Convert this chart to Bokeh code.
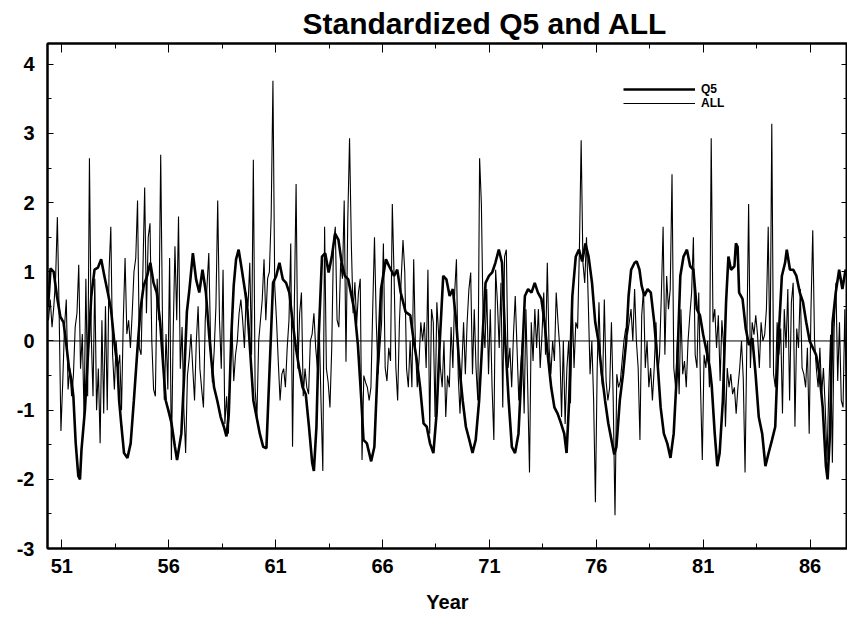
from bokeh.plotting import figure
from bokeh.models import Range1d, FixedTicker, LinearAxis, Span, Legend, LegendItem
from bokeh.embed import file_html
from bokeh.resources import INLINE

# ---------------- data ----------------
x_tick_years = [51, 56, 61, 66, 71, 76, 81, 86]
x_tick_labels = ["51", "56", "61", "66", "71", "76", "81", "86"]
y_ticks = [-3, -2, -1, 0, 1, 2, 3, 4]
y_tick_labels = ["-3", "-2", "-1", "0", "1", "2", "3", "4"]

# Q5 (thick line): year (19xx, decimal) and standardized value
q5_year = [
    50.36, 50.47, 50.62, 50.77, 50.93, 51.08, 51.19, 51.34, 51.46, 51.54,
    51.65, 51.77, 51.85, 51.92, 52.08, 52.23, 52.38, 52.53, 52.69, 52.84,
    52.99, 53.15, 53.30, 53.45, 53.61, 53.68, 53.79, 53.91, 54.07, 54.22,
    54.37, 54.53, 54.68, 54.83, 54.99, 55.14, 55.29, 55.44, 55.60, 55.75,
    55.86, 55.98, 56.13, 56.29, 56.39, 56.59, 56.74, 56.85, 56.97, 57.13,
    57.28, 57.43, 57.58, 57.74, 57.89, 58.00, 58.12, 58.27, 58.43, 58.58,
    58.70, 58.81, 58.93, 59.04, 59.15, 59.27, 59.42, 59.58, 59.68, 59.81,
    59.96, 60.11, 60.26, 60.42, 60.57, 60.72, 60.88, 61.03, 61.18, 61.34,
    61.49, 61.64, 61.80, 61.95, 62.10, 62.26, 62.41, 62.56, 62.71, 62.79,
    62.91, 63.02, 63.17, 63.32, 63.48, 63.63, 63.78, 63.94, 64.09, 64.24,
    64.40, 64.55, 64.70, 64.85, 65.01, 65.11, 65.27, 65.47, 65.62, 65.77,
    65.93, 66.16, 66.31, 66.54, 66.69, 66.85, 67.08, 67.30, 67.46, 67.61,
    67.76, 67.92, 68.07, 68.22, 68.38, 68.53, 68.68, 68.84, 68.99, 69.14,
    69.29, 69.45, 69.60, 69.75, 69.90, 70.06, 70.21, 70.36, 70.52, 70.67,
    70.82, 70.98, 71.13, 71.28, 71.44, 71.59, 71.74, 71.90, 72.05, 72.20,
    72.36, 72.51, 72.66, 72.81, 72.97, 73.12, 73.27, 73.43, 73.58, 73.73,
    73.89, 74.04, 74.19, 74.35, 74.50, 74.61, 74.73, 74.88, 75.04, 75.19,
    75.34, 75.49, 75.64, 75.80, 75.95, 76.10, 76.26, 76.41, 76.56, 76.71,
    76.84, 76.94, 77.10, 77.25, 77.40, 77.51, 77.63, 77.79, 77.89, 78.02,
    78.12, 78.25, 78.40, 78.55, 78.71, 78.86, 79.01, 79.16, 79.32, 79.47,
    79.62, 79.78, 79.93, 80.08, 80.24, 80.39, 80.54, 80.70, 80.85, 81.00,
    81.16, 81.31, 81.40, 81.54, 81.66, 81.77, 81.92, 82.07, 82.18, 82.30,
    82.46, 82.53, 82.61, 82.68, 82.84, 82.99, 83.14, 83.30, 83.45, 83.60,
    83.76, 83.91, 84.06, 84.22, 84.37, 84.52, 84.68, 84.83, 84.91, 85.06,
    85.21, 85.36, 85.52, 85.67, 85.82, 85.98, 86.13, 86.28, 86.44, 86.59,
    86.74, 86.82, 86.93, 87.05, 87.20, 87.36, 87.51, 87.66, 87.75,
]
q5_value = [
    0.5, 1.05, 1.0, 0.65, 0.35, 0.27, 0.0, -0.4, -0.58, -0.8,
    -1.48, -1.95, -2.0, -1.57, -1.0, -0.15, 0.65, 1.03, 1.06, 1.18,
    0.94, 0.7, 0.46, 0.0, -0.39, -0.86, -1.24, -1.62, -1.69, -1.48,
    -0.86, -0.15, 0.46, 0.8, 0.94, 1.13, 0.84, 0.7, 0.27, -0.39,
    -0.86, -1.0, -1.19, -1.53, -1.72, -1.34, -0.39, 0.42, 0.75, 1.27,
    0.89, 0.7, 1.03, 0.7, 0.09, -0.29, -0.67, -0.86, -1.1, -1.24,
    -1.38, -1.05, 0.09, 0.8, 1.18, 1.32, 1.03, 0.7, 0.46, -0.15,
    -0.86, -1.1, -1.34, -1.53, -1.55, -0.39, 0.84, 0.94, 1.13, 0.89,
    0.84, 0.7, 0.27, -0.1, -0.39, -0.67, -0.77, -1.24, -1.76, -1.88,
    -1.24, 0.09, 1.22, 1.27, 0.99, 1.22, 1.55, 1.46, 1.13, 0.94,
    0.89, 0.65, 0.42, -0.06, -0.86, -1.43, -1.48, -1.74, -1.53, -0.39,
    0.75, 1.18, 1.08, 0.94, 1.03, 0.7, 0.42, 0.37, 0.0, -0.29,
    -0.67, -1.19, -1.24, -1.48, -1.62, -1.05, 0.0, 0.94, 0.89, 0.65,
    0.75, 0.27, -0.39, -0.86, -1.24, -1.43, -1.62, -1.43, -0.86, 0.0,
    0.84, 0.94, 0.99, 1.13, 1.32, 1.13, 0.0, -0.86, -1.53, -1.62,
    -1.34, -0.39, 0.65, 0.75, 0.7, 0.84, 0.7, 0.61, 0.27, -0.2,
    -0.67, -0.96, -1.05, -1.19, -1.34, -1.62, -0.86, 0.65, 1.22, 1.32,
    1.15, 1.41, 1.22, 0.84, 0.27, 0.0, -0.48, -0.86, -1.19, -1.43,
    -1.64, -1.53, -0.86, -0.48, 0.0, 0.65, 1.03, 1.13, 1.15, 1.03,
    0.8, 0.65, 0.75, 0.7, 0.27, -0.29, -0.96, -1.34, -1.48, -1.69,
    -1.34, -0.39, 0.94, 1.22, 1.32, 1.08, 1.03, 0.46, 0.37, 0.09,
    -0.15, -0.39, -0.65, -1.34, -1.81, -1.62, -0.86, 0.56, 1.22, 1.03,
    1.08, 1.41, 1.36, 0.7, 0.61, 0.18, -0.06, 0.04, -0.48, -1.1,
    -1.34, -1.81, -1.62, -1.43, -1.24, 0.0, 0.94, 1.13, 1.32, 1.03,
    1.03, 0.94, 0.7, 0.56, 0.27, 0.0, -0.1, -0.2, -0.48, -0.96,
    -1.81, -2.0, -1.34, 0.27, 0.7, 1.03, 0.75, 1.03, 0.94,
]

# ALL (thin line): monthly values starting May 1950
all_start_year = 50.375
all_value = [
    # 1950-1956
    0.3, 0.6, 0.2, 0.5, 0.9, 1.79, 0.4, -1.3, -0.6, 0.2,
    0.6, -0.7, -0.4, -0.8, -0.5, 0.2, 0.4, 1.1, -0.4, 0.1,
    -1.1, 0.9, -0.8, 2.64, 0.1, -0.8, 0.9, -1.0, -0.4, -1.48,
    0.3, -1.05, 0.5, -1.0, 1.0, 1.65, -0.2, -0.7, 0.0, -0.4,
    -0.2, -1.0, 0.3, 1.2, 0.1, 0.3, -0.1, 0.4, 1.0, 1.2,
    2.03, -0.1, -0.2, 1.0, 2.22, 0.4, 1.5, 1.7, 0.0, -0.7,
    -0.8, 0.9, 0.3, 2.69, 0.3, -0.85, 0.1, -0.7, 1.2, -1.72,
    0.1, 1.37, 0.3, 1.8, -0.4, 0.2,
    # 1956-1962
    -1.0, -1.62, -0.5, -0.25, 0.1, -0.4, -0.86, 0.0, 0.5, -0.4,
    -0.7, -0.96, 0.3, 0.8, 1.27, 0.0, -0.6, -0.15, 0.5, 2.03,
    0.3, -0.4, 1.03, -1.2, -0.8, -1.34, -0.4, 0.2, -0.58, -0.2,
    0.0, 0.4, 0.6, 0.3, -0.1, 0.7, 0.5, 1.13, -0.2, 2.62,
    -0.7, -1.1, 0.0, 0.3, 0.6, 1.18, 0.3, 0.9, 1.0, 1.8,
    3.76, 0.8, 0.3, -0.3, -0.86, -0.48, -0.4, -0.67, -0.1, 0.3,
    1.41, -1.53, 0.5, 2.27, -0.4, 0.4, 0.7, -0.8, -0.4, -0.67,
    -0.77, 0.0, 0.1, 0.4,
    # 1962-1969
    -0.1, -0.4, 0.2, -0.9, -1.88, 1.65, -0.4, -0.6, -0.96, -0.1,
    1.41, 1.65, 0.3, 0.2, 1.13, 0.9, 2.03, -0.3, 1.75, 2.93,
    1.4, 0.4, 0.85, 0.25, 0.7, 0.9, -1.72, -0.5, -0.6, -0.67,
    -0.86, -0.67, 0.46, 1.5, 0.27, -0.48, -0.1, 0.27, 1.41, -0.39,
    -0.58, -0.1, -0.29, 1.98, 0.94, -0.39, -0.86, 0.27, 0.9, 1.46,
    1.0, -0.4, -0.67, 0.0, -0.67, 1.18, -0.1, -0.67, -0.29, 0.27,
    0.0, 0.27, -0.39, 1.03, -1.34, 0.46, 0.27, -1.1, 0.56, 0.09,
    -0.39, -0.67, 0.0, -1.1,
    # 1969-1975
    -0.5, -0.67, 0.2, -0.39, 0.7, 1.18, -0.5, -1.05, -0.39, 0.27,
    -0.48, 0.27, 0.75, 0.99, -0.48, 0.46, -0.39, -0.86, 2.64, 1.98,
    0.27, -0.1, 0.75, -0.48, 0.46, -0.67, -1.43, 1.03, 0.56, -0.1,
    0.84, -0.96, 1.22, 1.32, -0.39, -0.1, -0.67, 0.09, 0.65, -0.1,
    -0.86, -0.39, 0.0, -1.05, 0.46, -0.67, -1.9, 0.27, -0.29, 0.46,
    -0.1, 0.46, -0.39, 0.09, 0.7, -0.2, 1.13, -0.1, -0.48, 0.0,
    -0.29, 0.7, 0.27, -0.1, -1.1, 0.0, -1.2, -0.39, 0.0, -0.9,
    0.56, -0.39, 0.27, 0.18,
    # 1975-1981
    1.3, 2.9, 1.13, 0.84, 1.5, 0.56, -0.48, 0.0, -0.86, -2.33,
    -0.39, 0.56, -0.39, -0.67, 0.6, -0.58, -0.86, -0.67, 0.27, -0.86,
    -2.52, -0.48, -0.67, -0.58, -0.29, 0.0, 0.18, 0.09, 0.27, 0.46,
    0.0, 0.75, 0.0, -0.39, -1.43, 0.37, 0.75, -0.39, 0.0, -0.67,
    -0.39, -0.86, -0.39, 0.27, -0.48, -0.2, 0.65, 1.65, -0.2, 0.94,
    0.46, 0.75, 2.41, -0.39, -0.67, 0.0, -0.77, 0.46, -0.48, -0.29,
    -0.67, 0.0, 0.37, 0.7, 1.5, -0.2, -0.39, 0.7, -0.67, -1.72,
    -0.2, -0.39, 0.0, -0.67,
    # 1981-1987
    2.93, 0.27, 0.46, -0.1, 0.37, -0.58, 0.3, -0.1, -1.24, -0.39,
    -0.67, -0.48, -0.77, -0.67, -1.05, -0.67, -0.39, 0.0, -0.55, -1.9,
    0.0, 1.98, -0.39, 0.27, 0.09, 0.37, 0.09, -0.39, 0.27, 0.0,
    0.09, 0.46, 1.65, -0.39, 3.14, -0.48, -0.67, 0.27, -0.2, 0.18,
    -1.05, 0.46, -0.1, 0.75, -0.86, 0.56, 0.84, -1.24, 0.18, -0.1,
    0.75, -0.39, -0.48, -0.67, -0.1, -1.34, 0.46, 1.6, 0.0, -0.39,
    -0.67, -0.1, -0.77, -0.39, -0.96, -1.72, -0.7, 0.09, -1.76, 0.18,
    0.84, -0.58, 0.27, -0.86, -0.96, 0.46, -1.1,
]
all_year = [all_start_year + i / 12.0 for i in range(len(all_value))]
assert len(q5_year) == len(q5_value)

FONT = "Liberation Sans"

p = figure(width=847, height=615, output_backend="svg", toolbar_location=None,
           x_range=Range1d(50.33, 87.75), y_range=Range1d(-3.0, 4.3),
           min_border_left=47, min_border_right=0, min_border_top=0,
           min_border_bottom=40, background_fill_color="white",
           border_fill_color="white")

p.title.text = "Standardized Q5 and ALL"
p.title.text_font = FONT
p.title.text_font_style = "bold"
p.title.text_font_size = "30px"
p.title.align = "left"
p.title.offset = 255
p.title.standoff = 8
p.title.text_color = "black"

p.xgrid.visible = False
p.ygrid.visible = False
p.outline_line_color = "black"
p.outline_line_width = 2

xt = FixedTicker(ticks=x_tick_years,
                 minor_ticks=[48.5, 53.5, 58.5, 63.5, 68.5, 73.5, 78.5, 83.5])
yt = FixedTicker(ticks=y_ticks,
                 minor_ticks=[-2.5, -1.5, -0.5, 0.5, 1.5, 2.5, 3.5])

def style_axis(ax, ticker, major_in, minor_in):
    ax.ticker = ticker
    ax.axis_line_color = "black"
    ax.axis_line_width = 2
    ax.major_tick_in = major_in
    ax.major_tick_out = 0
    ax.minor_tick_in = minor_in
    ax.minor_tick_out = 0
    ax.major_tick_line_color = "black"
    ax.minor_tick_line_color = "black"
    ax.major_tick_line_width = 1
    ax.minor_tick_line_width = 1
    ax.major_label_text_font = FONT
    ax.major_label_text_font_style = "bold"
    ax.major_label_text_font_size = "20px"
    ax.major_label_text_color = "black"

xa = p.xaxis[0]
style_axis(xa, xt, 9, 5)
xa.major_label_overrides = {t: s for t, s in zip(x_tick_years, x_tick_labels)}
xa.major_label_standoff = 10
xa.axis_label = "Year"
xa.axis_label_text_font = FONT
xa.axis_label_text_font_style = "bold"
xa.axis_label_text_font_size = "20px"
xa.axis_label_text_color = "black"
xa.axis_label_standoff = 15

ya = p.yaxis[0]
style_axis(ya, yt, 6, 4)
ya.major_label_overrides = {t: s for t, s in zip(y_ticks, y_tick_labels)}
ya.major_label_standoff = 13

# frame ticks on top and right, without labels
top = LinearAxis()
style_axis(top, xt, 9, 5)
top.major_label_overrides = {t: "" for t in x_tick_years}
top.major_label_standoff = 0
p.add_layout(top, "above")
right = LinearAxis()
style_axis(right, yt, 6, 4)
right.major_label_overrides = {t: "" for t in y_ticks}
right.major_label_standoff = 0
p.add_layout(right, "right")

p.add_layout(Span(location=0, dimension="width", line_color="black", line_width=1))

r_all = p.line(all_year, all_value, line_color="black", line_width=1.1)
r_q5 = p.line(q5_year, q5_value, line_color="black", line_width=2.6)

legend = Legend(items=[LegendItem(label="Q5", renderers=[r_q5]),
                       LegendItem(label="ALL", renderers=[r_all])],
                location=(576, 438), orientation="vertical",
                glyph_width=72, glyph_height=12, label_height=12,
                label_standoff=6, spacing=-2, padding=0, margin=0,
                label_text_font=FONT, label_text_font_style="bold",
                label_text_font_size="12px", label_text_color="black",
                border_line_color=None, background_fill_alpha=0)
p.add_layout(legend, "center")

open("out.html", "w").write(file_html(p, INLINE))
